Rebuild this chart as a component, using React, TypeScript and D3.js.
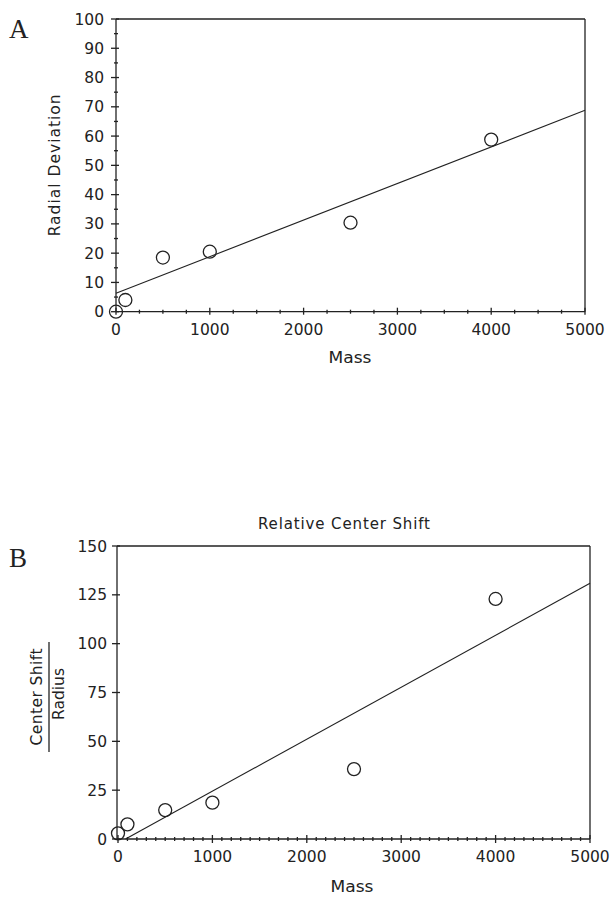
import React from "react";
import * as d3 from "d3";

// Panel A data
const massA = [0, 100, 500, 1000, 2500, 4000];
const devA = [0, 4, 18.5, 20.5, 30.4, 58.8];
const fitMassA = [0, 5000];
const fitDevA = [6.3, 68.8];
const xTicksA = [0, 1000, 2000, 3000, 4000, 5000];
const yTicksA = [0, 10, 20, 30, 40, 50, 60, 70, 80, 90, 100];

// Panel B data
const massB = [0, 100, 500, 1000, 2500, 4000];
const shiftB = [2.9, 7.5, 14.8, 18.6, 35.8, 122.9];
const fitMassB = [80, 5000];
const fitShiftB = [0, 130.9];
const xTicksB = [0, 1000, 2000, 3000, 4000, 5000];
const yTicksB = [0, 25, 50, 75, 100, 125, 150];

const FONT = "'DejaVu Sans', sans-serif";
const INK = "#222";

function range(a: number, b: number, step: number) {
  const out: number[] = [];
  for (let v = a; v <= b + 1e-9; v += step) out.push(v);
  return out;
}

export default function App() {
  // Panel A scales
  const xA = d3.scaleLinear().domain([0, 5000]).range([116, 585]);
  const yA = d3.scaleLinear().domain([0, 100]).range([311.7, 19]);
  // Panel B scales
  const xB = d3.scaleLinear().domain([0, 5000]).range([118, 590]);
  const yB = d3.scaleLinear().domain([0, 150]).range([839, 546]);

  const lineA = d3
    .line<number>()
    .x((_, i) => xA(fitMassA[i]))
    .y((d) => yA(d));
  const lineB = d3
    .line<number>()
    .x((_, i) => xB(fitMassB[i]))
    .y((d) => yB(d));

  const minorXA = range(0, 5000, 250).filter((v) => v % 1000 !== 0);
  const minorYA = range(0, 100, 5).filter((v) => v % 10 !== 0);
  const minorXB = range(0, 5000, 100).filter((v) => v % 1000 !== 0);

  const axisA = {
    left: xA(0),
    right: xA(5000),
    top: yA(100),
    bottom: yA(0),
  };
  const axisB = {
    left: 117,
    right: xB(5000),
    top: yB(150),
    bottom: yB(0),
  };

  return (
    <svg
      width={612}
      height={901}
      style={{ position: "absolute", left: 0, top: 0, background: "#fff" }}
      fontFamily={FONT}
    >
      <rect x={0} y={0} width={612} height={901} fill="#fff" />
      {/* ===== Panel A ===== */}
      <text x={9} y={38} fontFamily="'Liberation Serif', serif" fontSize={27} fill={INK}>
        A
      </text>
      <g stroke={INK} strokeWidth={1.3} fill="none">
        <line x1={axisA.left} x2={axisA.right} y1={axisA.top} y2={axisA.top} />
        <line x1={axisA.right} x2={axisA.right} y1={axisA.top} y2={axisA.bottom} />
        <line x1={axisA.left} x2={axisA.right} y1={axisA.bottom} y2={axisA.bottom} />
        <line x1={axisA.left} x2={axisA.left} y1={axisA.top} y2={axisA.bottom} />
        {yTicksA.map((t) => (
          <line key={"ya" + t} x1={axisA.left - 5} x2={axisA.left + 3} y1={yA(t)} y2={yA(t)} />
        ))}
        {minorYA.map((t) => (
          <line key={"yam" + t} x1={axisA.left - 2} x2={axisA.left + 2} y1={yA(t)} y2={yA(t)} />
        ))}
        {xTicksA.map((t) => (
          <line key={"xa" + t} x1={xA(t)} x2={xA(t)} y1={axisA.bottom - 4} y2={axisA.bottom + 3} />
        ))}
        {minorXA.map((t) => (
          <line key={"xam" + t} x1={xA(t)} x2={xA(t)} y1={axisA.bottom - 2} y2={axisA.bottom + 2} />
        ))}
      </g>
      <g fill={INK} fontSize={15.5}>
        {yTicksA.map((t) => (
          <text key={"yal" + t} x={104} y={yA(t) + 5.5} textAnchor="end">
            {t}
          </text>
        ))}
        {xTicksA.map((t) => (
          <text key={"xal" + t} x={xA(t)} y={335} textAnchor="middle">
            {t}
          </text>
        ))}
        <text x={350} y={363} textAnchor="middle" textLength={43} lengthAdjust="spacingAndGlyphs">
          Mass
        </text>
        <text
          transform={`translate(60,${(axisA.top + axisA.bottom) / 2}) rotate(-90)`}
          textAnchor="middle"
          textLength={142}
          lengthAdjust="spacing"
        >
          Radial Deviation
        </text>
      </g>
      <path d={lineA(fitDevA) || ""} stroke={INK} strokeWidth={1.1} fill="none" />
      <g stroke={INK} strokeWidth={1.3} fill="none">
        {massA.map((m, i) => (
          <circle key={"pa" + i} cx={xA(m)} cy={yA(devA[i])} r={6.5} />
        ))}
      </g>

      {/* ===== Panel B ===== */}
      <text x={9} y={567} fontFamily="'Liberation Serif', serif" fontSize={27} fill={INK}>
        B
      </text>
      <text x={344} y={529} textAnchor="middle" fontSize={15} fill={INK} textLength={172} lengthAdjust="spacing">
        Relative Center Shift
      </text>
      <g stroke={INK} strokeWidth={1.3} fill="none">
        <line x1={axisB.left} x2={axisB.right} y1={axisB.top} y2={axisB.top} />
        <line x1={axisB.right} x2={axisB.right} y1={axisB.top} y2={axisB.bottom} />
        <line x1={axisB.left} x2={axisB.right} y1={axisB.bottom} y2={axisB.bottom} />
        <line x1={axisB.left} x2={axisB.left} y1={axisB.top} y2={axisB.bottom} />
        {yTicksB.map((t) => (
          <line key={"yb" + t} x1={axisB.left - 5} x2={axisB.left + 3} y1={yB(t)} y2={yB(t)} />
        ))}
        {xTicksB.map((t) => (
          <line key={"xb" + t} x1={xB(t)} x2={xB(t)} y1={axisB.bottom - 4} y2={axisB.bottom + 4} />
        ))}
        {minorXB.map((t) => (
          <line key={"xbm" + t} x1={xB(t)} x2={xB(t)} y1={axisB.bottom - 2} y2={axisB.bottom + 2} />
        ))}
      </g>
      <g fill={INK} fontSize={15.5}>
        {yTicksB.map((t) => (
          <text key={"ybl" + t} x={107} y={yB(t) + 5.5} textAnchor="end">
            {t}
          </text>
        ))}
        {xTicksB.map((t) => (
          <text key={"xbl" + t} x={xB(t)} y={862} textAnchor="middle">
            {t}
          </text>
        ))}
        <text x={352} y={892} textAnchor="middle" textLength={43} lengthAdjust="spacingAndGlyphs">
          Mass
        </text>
        <g transform={`translate(0,697) rotate(-90)`}>
          <text x={0} y={42} textAnchor="middle" textLength={97} lengthAdjust="spacing">
            Center Shift
          </text>
          <line x1={-55} x2={55} y1={49} y2={49} stroke={INK} strokeWidth={1.3} />
          <text x={3} y={64} textAnchor="middle">
            Radius
          </text>
        </g>
      </g>
      <path d={lineB(fitShiftB) || ""} stroke={INK} strokeWidth={1.1} fill="none" />
      <g stroke={INK} strokeWidth={1.3} fill="none">
        {massB.map((m, i) => (
          <circle key={"pb" + i} cx={xB(m)} cy={yB(shiftB[i])} r={6.5} />
        ))}
      </g>
    </svg>
  );
}
